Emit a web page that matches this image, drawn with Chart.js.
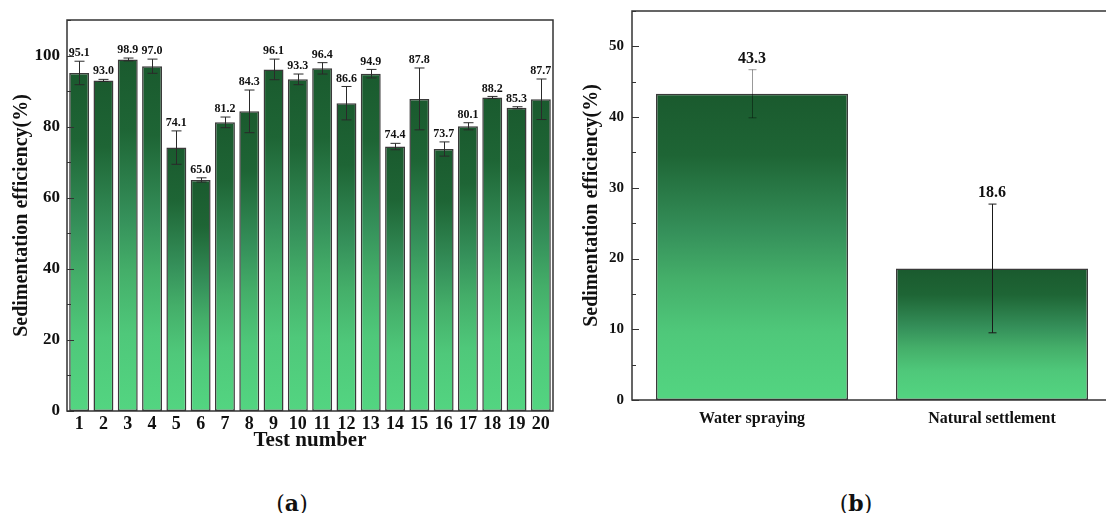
<!DOCTYPE html>
<html>
<head>
<meta charset="utf-8">
<script src="https://cdn.jsdelivr.net/npm/chart.js@4/dist/chart.umd.min.js"></script>
<style>
  html, body { margin: 0; padding: 0; background: #fff; overflow: hidden; width: 1106px; height: 513px; }
  #ca { position: absolute; left: 0; top: 0; }
  #cb { position: absolute; left: 575px; top: 0; }
  .cap { position: absolute; top: 490px; line-height: 26px; font-family: "DejaVu Serif", "Liberation Serif", serif;
         font-size: 22px; color: #111; transform: translateX(-50%); white-space: nowrap; }
</style>
</head>
<body>
<canvas id="ca" width="560" height="470"></canvas>
<canvas id="cb" width="545" height="470"></canvas>
<div class="cap" style="left:292px">(<b>a</b>)</div>
<div class="cap" style="left:856px">(<b>b</b>)</div>
<script>
// Panel (a): sedimentation efficiency per test
const testNumbers = ['1','2','3','4','5','6','7','8','9','10','11','12','13','14','15','16','17','18','19','20'];
const efficiencyA = [95.1, 93.0, 98.9, 97.0, 74.1, 65.0, 81.2, 84.3, 96.1, 93.3, 96.4, 86.6, 94.9, 74.4, 87.8, 73.7, 80.1, 88.2, 85.3, 87.7];
const errorA      = [3.3, 0.3, 0.4, 2.0, 4.7, 0.6, 1.5, 6.0, 2.9, 1.5, 1.6, 4.7, 1.2, 0.9, 8.7, 2.0, 1.0, 0.3, 0.3, 5.7];
const yTicksA     = [0, 20, 40, 60, 80, 100];
const yMinorA     = [10, 30, 50, 70, 90, 110];

// Panel (b): spraying vs. natural settlement
const methods     = ['Water spraying', 'Natural settlement'];
const efficiencyB = [43.3, 18.6];
const errorB      = [3.4, 9.1];
const yTicksB     = [0, 10, 20, 30, 40, 50];
const yMinorB     = [5, 15, 25, 35, 45, 55];

const SERIF = '"Liberation Serif", "Times New Roman", serif';
const INK = '#111';

// Vertical green gradient running from each bar's top to its base
function barGradient(ctx) {
  const chart = ctx.chart;
  if (!chart.chartArea || ctx.type !== 'data') return '#2e8a4c';
  const ys = chart.scales.y;
  const top = ys.getPixelForValue(ctx.raw);
  const base = ys.getPixelForValue(0);
  const g = chart.ctx.createLinearGradient(0, top, 0, base);
  g.addColorStop(0, '#1a5a2e');
  g.addColorStop(0.2, '#1e6535');
  g.addColorStop(0.45, '#35905a');
  g.addColorStop(0.6, '#44ae69');
  g.addColorStop(0.78, '#4fc87a');
  g.addColorStop(1, '#53d581');
  return g;
}

// Error bars with caps, plus the value printed above each bar
const errorBarPlugin = {
  id: 'errorBars',
  afterDatasetsDraw(chart, args, opts) {
    const { ctx } = chart;
    const ys = chart.scales.y;
    const meta = chart.getDatasetMeta(0);
    const data = chart.data.datasets[0].data;
    ctx.save();
    meta.data.forEach((bar, i) => {
      const v = data[i], e = opts.errors[i];
      const x = Math.round(bar.x) + 0.5;
      const yt = ys.getPixelForValue(v + e);
      const yb = ys.getPixelForValue(v - e);
      const h = opts.capWidth / 2;
      ctx.strokeStyle = opts.colors[i % opts.colors.length];
      ctx.lineWidth = 1;
      ctx.beginPath();
      ctx.moveTo(x, yt); ctx.lineTo(x, yb);
      ctx.moveTo(x - h, yt); ctx.lineTo(x + h, yt);
      ctx.moveTo(x - h, yb); ctx.lineTo(x + h, yb);
      ctx.stroke();
      ctx.fillStyle = INK;
      ctx.font = opts.labelFont;
      ctx.textAlign = 'center';
      ctx.textBaseline = 'bottom';
      ctx.fillText(v.toFixed(1), bar.x, Math.min(yt, bar.y) - opts.labelGap);
    });
    ctx.restore();
  }
};

// Box frame around the plot with inward major/minor ticks on the value axis
const framePlugin = {
  id: 'frame',
  afterDraw(chart, args, opts) {
    const { ctx, chartArea: a } = chart;
    const ys = chart.scales.y;
    ctx.save();
    ctx.strokeStyle = '#333';
    ctx.lineWidth = 1.5;
    ctx.strokeRect(a.left, a.top, a.right - a.left, a.bottom - a.top);
    ctx.lineWidth = 1.2;
    ctx.beginPath();
    opts.major.forEach(v => {
      const y = Math.round(ys.getPixelForValue(v)) + 0.5;
      ctx.moveTo(a.left, y); ctx.lineTo(a.left + opts.majorLen, y);
    });
    opts.minor.forEach(v => {
      const y = Math.round(ys.getPixelForValue(v)) + 0.5;
      ctx.moveTo(a.left, y); ctx.lineTo(a.left + opts.minorLen, y);
    });
    ctx.stroke();
    ctx.restore();
  }
};

function valueAxis(min, max, tickValues, fontSize, pad, width, titlePad) {
  return {
    min, max,
    afterBuildTicks(s) { s.ticks = tickValues.map(v => ({ value: v })); },
    grid: { display: false, drawTicks: false },
    border: { display: false },
    ticks: { font: { family: SERIF, size: fontSize, weight: 'bold' }, color: INK, padding: pad },
    title: { display: true, text: 'Sedimentation efficiency(%)', color: INK,
             font: { family: SERIF, size: 20, weight: 'bold' }, padding: { top: titlePad, bottom: 0 } },
    afterFit(s) { s.width = width; s.paddingTop = 0; s.paddingBottom = 0; }
  };
}

function categoryAxis(fontSize, pad, title) {
  return {
    grid: { display: false, drawTicks: false },
    border: { display: false },
    ticks: { font: { family: SERIF, size: fontSize, weight: 'bold' }, color: INK, padding: pad,
             maxRotation: 0, autoSkip: false },
    title: title ? { display: true, text: title, color: INK,
                     font: { family: SERIF, size: 21, weight: 'bold' }, padding: { top: 0, bottom: 3 } }
                 : { display: false },
    afterFit(s) { s.height = 45; s.paddingLeft = 0; s.paddingRight = 0; }
  };
}

new Chart(document.getElementById('ca'), {
  type: 'bar',
  data: {
    labels: testNumbers,
    datasets: [{
      data: efficiencyA,
      backgroundColor: barGradient,
      borderColor: '#3a3a3a',
      borderWidth: 1.5,
      borderSkipped: false,
      categoryPercentage: 1,
      barPercentage: 0.82
    }]
  },
  options: {
    responsive: false,
    animation: false,
    layout: { padding: { top: 20, right: 7, bottom: 14, left: 0 } },
    plugins: {
      legend: { display: false },
      tooltip: { enabled: false },
      errorBars: { errors: errorA, colors: ['#2a2a2a'], capWidth: 10, labelGap: 2,
                   labelFont: 'bold 12px ' + SERIF },
      frame: { major: yTicksA, minor: yMinorA, majorLen: 7, minorLen: 4 }
    },
    scales: {
      x: categoryAxis(18, 3, 'Test number'),
      y: valueAxis(0, 110, yTicksA, 17, 7, 67, 10)
    }
  },
  plugins: [errorBarPlugin, framePlugin]
});

new Chart(document.getElementById('cb'), {
  type: 'bar',
  data: {
    labels: methods,
    datasets: [{
      data: efficiencyB,
      backgroundColor: barGradient,
      borderColor: '#3a3a3a',
      borderWidth: 1.5,
      borderSkipped: false,
      categoryPercentage: 1,
      barPercentage: 0.8
    }]
  },
  options: {
    responsive: false,
    animation: false,
    layout: { padding: { top: 11, right: 8, bottom: 25, left: 0 } },
    plugins: {
      legend: { display: false },
      tooltip: { enabled: false },
      errorBars: { errors: errorB, colors: ['rgba(0,0,0,0.4)', '#1a1a1a'], capWidth: 8, labelGap: 3,
                   labelFont: 'bold 16px ' + SERIF },
      frame: { major: yTicksB, minor: yMinorB, majorLen: 7, minorLen: 4 }
    },
    scales: {
      x: categoryAxis(16, 9, null),
      y: valueAxis(0, 55, yTicksB, 15, 8, 57, 5)
    }
  },
  plugins: [errorBarPlugin, framePlugin]
});
</script>
</body>
</html>
